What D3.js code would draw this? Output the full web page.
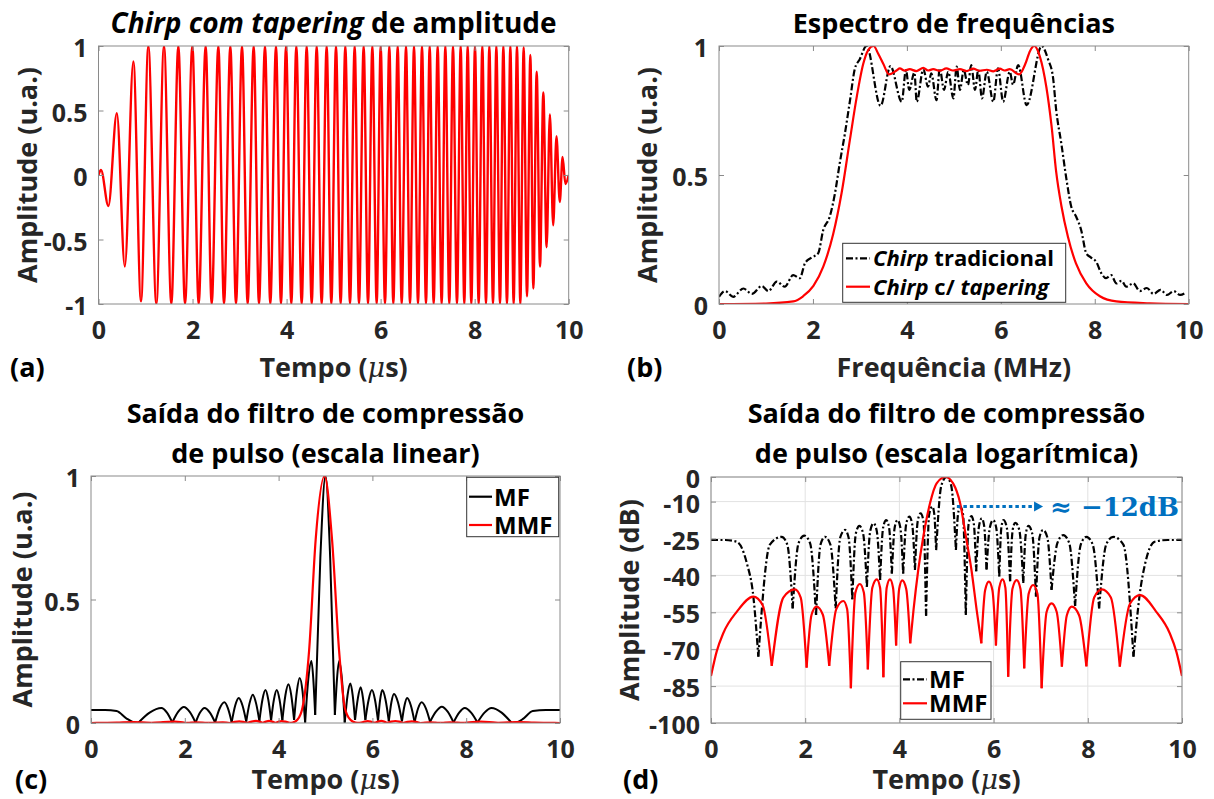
<!DOCTYPE html>
<html>
<head>
<meta charset="utf-8">
<script src="https://cdn.jsdelivr.net/npm/d3@7"></script>
<style>
  body { margin: 0; background: #fff; }
  svg text { font-family: "Open Sans", Lato, sans-serif; font-weight: 700; }
</style>
</head>
<body>
<svg id="chart" width="1214" height="799"></svg>
<script>
// ---------- (a) tapered chirp: extrema (time in µs, amplitude) ----------
const chirpTime = [
  0, 0.053, 0.21, 0.39, 0.56, 0.741, 0.904, 1.060, 1.230, 1.393,
  1.549, 1.698, 1.840, 1.996, 2.130, 2.279, 2.407, 2.549, 2.669, 2.804,
  2.924, 3.052, 3.172, 3.300, 3.413, 3.541, 3.654, 3.775, 3.881, 3.988,
  4.101, 4.207, 4.321, 4.427, 4.534, 4.640, 4.746, 4.852, 4.952, 5.051,
  5.150, 5.249, 5.349, 5.448, 5.540, 5.639, 5.732, 5.824, 5.916, 6.001,
  6.093, 6.185, 6.270, 6.363, 6.448, 6.540, 6.625, 6.710, 6.795, 6.880,
  6.965, 7.043, 7.128, 7.213, 7.298, 7.376, 7.461, 7.539, 7.624, 7.702,
  7.780, 7.851, 7.929, 8.007, 8.085, 8.163, 8.241, 8.312, 8.390, 8.461,
  8.539, 8.610, 8.687, 8.759, 8.829, 8.900, 8.971, 9.042, 9.113, 9.184,
  9.248, 9.319, 9.390, 9.460, 9.530, 9.600, 9.670, 9.740, 9.810, 9.870,
  9.930, 10.0
];
const chirpAmp = [
  0, 0.04, -0.24, 0.48, -0.71, 0.88, -0.98, 1, -1, 1,
  -1, 1, -1, 1, -1, 1, -1, 1, -1, 1,
  -1, 1, -1, 1, -1, 1, -1, 1, -1, 1,
  -1, 1, -1, 1, -1, 1, -1, 1, -1, 1,
  -1, 1, -1, 1, -1, 1, -1, 1, -1, 1,
  -1, 1, -1, 1, -1, 1, -1, 1, -1, 1,
  -1, 1, -1, 1, -1, 1, -1, 1, -1, 1,
  -1, 1, -1, 1, -1, 1, -1, 1, -1, 1,
  -1, 1, -1, 1, -1, 1, -1, 0.99, -0.94, 0.93,
  -0.88, 0.80, -0.71, 0.64, -0.56, 0.47, -0.39, 0.30, -0.21, 0.14,
  -0.07, 0.0
];

// ---------- (b) spectra (frequency in MHz, normalised amplitude) ----------
const tradFreq = [
  0, 0.13, 0.30, 0.52, 0.70, 0.91, 1.05, 1.23, 1.40, 1.58,
  1.72, 1.83, 1.97, 2.11, 2.22, 2.36, 2.47, 2.57, 2.68, 2.79,
  2.89, 3.00, 3.14, 3.44, 3.65, 3.89, 3.98, 4.05, 4.16, 4.21,
  4.35, 4.45, 4.52, 4.63, 4.70, 4.79, 4.88, 4.99, 5.06, 5.13,
  5.21, 5.30, 5.37, 5.45, 5.52, 5.60, 5.70, 5.84, 5.94, 6.05,
  6.19, 6.26, 6.37, 6.55, 6.87, 7.01, 7.11, 7.18, 7.29, 7.40,
  7.50, 7.60, 7.71, 7.82, 7.92, 8.03, 8.14, 8.24, 8.35, 8.46,
  8.57, 8.67, 8.82, 8.96, 9.11, 9.25, 9.40, 9.54, 9.68, 9.82,
  9.93
];
const tradAmp = [
  0.028, 0.05, 0.028, 0.06, 0.039, 0.07, 0.05, 0.087, 0.067, 0.112,
  0.10, 0.158, 0.18, 0.196, 0.287, 0.34, 0.43, 0.545, 0.66, 0.79,
  0.91, 0.95, 1.0, 0.768, 0.922, 0.784, 0.907, 0.83, 0.897, 0.784,
  0.91, 0.842, 0.894, 0.79, 0.913, 0.83, 0.90, 0.797, 0.92, 0.83,
  0.907, 0.849, 0.926, 0.83, 0.907, 0.797, 0.90, 0.784, 0.913, 0.784,
  0.90, 0.85, 0.926, 0.771, 1.0, 0.946, 0.88, 0.75, 0.62, 0.48,
  0.377, 0.34, 0.287, 0.196, 0.18, 0.164, 0.119, 0.10, 0.112, 0.08,
  0.09, 0.067, 0.08, 0.05, 0.062, 0.039, 0.055, 0.035, 0.05, 0.035,
  0.043
];
const taperFreq = [
  0, 1.0, 1.58, 1.79, 2.01, 2.22, 2.43, 2.61, 2.79, 2.93,
  3.07, 3.18, 3.29, 3.39, 3.50, 3.62, 3.78, 3.85, 3.95, 4.06,
  4.20, 4.35, 4.45, 4.56, 4.70, 4.84, 4.98, 5.13, 5.27, 5.41,
  5.55, 5.70, 5.84, 5.98, 6.08, 6.19, 6.39, 6.52, 6.62, 6.71,
  6.83, 6.97, 7.08, 7.18, 7.29, 7.43, 7.60, 7.82, 8.11, 8.46,
  9.17, 10.0
];
const taperAmp = [
  0, 0.002, 0.01, 0.03, 0.07, 0.145, 0.27, 0.43, 0.64, 0.80,
  0.93, 0.985, 1.0, 0.97, 0.93, 0.89, 0.905, 0.913, 0.905, 0.91,
  0.903, 0.915, 0.905, 0.91, 0.904, 0.913, 0.905, 0.91, 0.903, 0.912,
  0.904, 0.908, 0.902, 0.912, 0.905, 0.91, 0.89, 0.93, 0.98, 1.0,
  0.96, 0.84, 0.69, 0.51, 0.38, 0.26, 0.157, 0.08, 0.03, 0.01,
  0.003, 0.0
];

// ---------- (c)/(d) pulse-compression output, in dB ----------
// matched filter (MF): nulls, lobe shoulders and lobe peaks
const mfTime = [
  0, 0.30, 0.545, 0.76, 0.90, 1.005, 1.25, 1.50, 1.62, 1.734,
  1.857, 1.98, 2.105, 2.23, 2.325, 2.42, 2.535, 2.647, 2.745, 2.845,
  2.92, 3.00, 3.075, 3.15, 3.23, 3.31, 3.38, 3.45, 3.52, 3.59,
  3.655, 3.72, 3.78, 3.84, 3.90, 3.96, 4.02, 4.08, 4.145, 4.21,
  4.27, 4.33, 4.39, 4.45, 4.51, 4.566, 4.633, 4.70, 4.74, 4.78,
  4.89, 5.00, 5.10, 5.20, 5.245, 5.29, 5.35, 5.41, 5.47, 5.53,
  5.58, 5.63, 5.69, 5.75, 5.80, 5.85, 5.92, 5.99, 6.055, 6.12,
  6.165, 6.21, 6.28, 6.35, 6.405, 6.46, 6.545, 6.63, 6.685, 6.74,
  6.82, 6.90, 6.975, 7.05, 7.14, 7.23, 7.355, 7.48, 7.605, 7.73,
  7.85, 7.97, 8.105, 8.24, 8.39, 8.54, 8.755, 8.97, 9.10, 9.22,
  9.42, 9.70, 10.0
];
const mfDb = [
  -25.6, -25.6, -26.3, -35, -48.7, -73, -27.5, -24.3, -27.5, -53.4,
  -27, -23.8, -27, -56.1, -27.5, -24.3, -27.5, -53.4, -24.5, -21.5,
  -24.5, -49.7, -23, -19.9, -23, -44.6, -22, -18.8, -22, -41.9,
  -20.5, -17.5, -20.5, -39.2, -20.5, -17.5, -20.5, -39.2, -19, -16.1,
  -19, -37.8, -17.8, -14.8, -17.8, -56.4, -15, -12, -15, -29.7,
  -3.5, 0, -3.5, -29.7, -15, -12, -15, -56.1, -19, -15.9,
  -19, -38.3, -20, -16.8, -20, -37.7, -20.5, -17.5, -20.5, -40.4,
  -20.5, -17.5, -20.5, -42.4, -21.5, -18.6, -21.5, -43.1, -23, -19.9,
  -23, -48.6, -24.5, -21.5, -24.5, -45.9, -26.8, -23.6, -26.8, -52.4,
  -27.5, -24.3, -27.5, -53.4, -27.5, -24.3, -27.5, -73, -48, -35,
  -26.3, -25.6, -25.6
];
// mismatched filter (MMF)
const mmfTime = [
  0, 0.12, 0.26, 0.55, 0.90, 1.095, 1.29, 1.535, 1.78, 1.905,
  2.03, 2.135, 2.24, 2.375, 2.51, 2.66, 2.81, 2.89, 2.97, 3.065,
  3.16, 3.245, 3.33, 3.425, 3.52, 3.59, 3.66, 3.73, 3.80, 3.865,
  3.93, 3.995, 4.06, 4.145, 4.23, 4.30, 4.40, 4.51, 4.65, 4.79,
  4.98, 5.14, 5.29, 5.41, 5.53, 5.64, 5.74, 5.82, 5.90, 5.975,
  6.05, 6.12, 6.19, 6.25, 6.31, 6.40, 6.49, 6.57, 6.65, 6.745,
  6.84, 6.93, 7.02, 7.125, 7.23, 7.34, 7.45, 7.555, 7.66, 7.815,
  7.97, 8.135, 8.30, 8.49, 8.68, 8.895, 9.11, 9.45, 9.74, 9.88,
  10.0
];
const mmfDb = [
  -80.9, -71, -63.5, -54.7, -48.6, -52, -76.8, -49, -45.7, -49,
  -77.5, -56, -52.7, -56, -76.8, -53.7, -50.4, -53.7, -85.9, -47,
  -43.5, -47, -78.2, -45, -41.6, -45, -81.4, -45, -41.6, -45,
  -68.5, -45.5, -42, -45.5, -67.6, -54, -37.8, -24, -10.7, -2.6,
  0, -2.6, -10.7, -24, -37.8, -54, -67.6, -46, -42.5, -46,
  -68.5, -45, -41.6, -45, -81.2, -45.4, -41.9, -45.4, -77.8, -47.4,
  -43.9, -47.4, -85.9, -54.9, -51.4, -54.9, -77.1, -56.2, -52.7, -56.2,
  -77, -49, -45.7, -49, -77.1, -51.5, -48, -54.7, -63.5, -71,
  -80.9
];

// ---------- tick values ----------
const timeTicks = [0, 2, 4, 6, 8, 10];
const freqTicks = [0, 2, 4, 6, 8, 10];
const ampTicksSym = [-1, -0.5, 0, 0.5, 1];
const ampTicksPos = [0, 0.5, 1];
const dbTicks = [0, -10, -25, -40, -55, -70, -85, -100];

const RED = "#ff0000", BLACK = "#000000", BLUE = "#0070c0";
const AXIS_GRAY = "#8a8a8a", TEXT_GRAY = "#262626";
const TITLE_PX = 27, LABEL_PX = 27, TICK_PX = 25;
const svg = d3.select("#chart");
const zip = (xs, ys) => xs.map((v, i) => [v, ys[i]]);

function makePanel(o) {
  const x = d3.scaleLinear().domain(o.xDomain).range([o.left, o.right]);
  const y = d3.scaleLinear().domain(o.yDomain).range([o.bottom, o.top]);
  const g = svg.append("g");
  const id = "clip-" + o.key;
  svg.append("clipPath").attr("id", id).append("rect")
    .attr("x", o.left).attr("y", o.top)
    .attr("width", o.right - o.left).attr("height", o.bottom - o.top);
  if (o.grid) {
    const gg = g.append("g").attr("stroke", "#e2e2e2").attr("stroke-width", 1);
    gg.selectAll("line.vx").data(o.xTicks).join("line")
      .attr("x1", d => x(d)).attr("x2", d => x(d))
      .attr("y1", o.top).attr("y2", o.bottom);
    gg.selectAll("line.hy").data(o.yTicks).join("line")
      .attr("x1", o.left).attr("x2", o.right)
      .attr("y1", d => y(d)).attr("y2", d => y(d));
  }
  const plot = g.append("g").attr("clip-path", `url(#${id})`);
  return { x, y, g, plot, o };
}

function styleAxis(sel) {
  sel.select(".domain").remove();
  sel.selectAll(".tick line").attr("stroke", AXIS_GRAY);
  sel.selectAll(".tick text").attr("fill", TEXT_GRAY).style("font-size", TICK_PX + "px");
}

function drawAxes(p) {
  const { x, y, g, o } = p;
  const tk = 5;
  const fmt = d => String(d);
  g.append("g").attr("transform", `translate(0,${o.bottom})`)
    .call(d3.axisBottom(x).tickValues(o.xTicks).tickSizeInner(-tk).tickSizeOuter(0)
      .tickPadding(17).tickFormat(fmt))
    .call(styleAxis);
  g.append("g").attr("transform", `translate(0,${o.top})`)
    .call(d3.axisTop(x).tickValues(o.xTicks).tickSizeInner(-tk).tickSizeOuter(0).tickFormat(""))
    .call(styleAxis);
  g.append("g").attr("transform", `translate(${o.left},0)`)
    .call(d3.axisLeft(y).tickValues(o.yTicks).tickSizeInner(-tk).tickSizeOuter(0)
      .tickPadding(11).tickFormat(fmt))
    .call(styleAxis)
    .selectAll(".tick text").attr("dy", "0.42em");
  g.append("g").attr("transform", `translate(${o.right},0)`)
    .call(d3.axisRight(y).tickValues(o.yTicks).tickSizeInner(-tk).tickSizeOuter(0).tickFormat(""))
    .call(styleAxis);
  g.append("rect")
    .attr("x", o.left).attr("y", o.top)
    .attr("width", o.right - o.left).attr("height", o.bottom - o.top)
    .attr("fill", "none").attr("stroke", AXIS_GRAY).attr("stroke-width", 1);
}

// Axis captions: x label, y label and panel letter
function captions(p, xLabelParts, yLabel, letter, xBase, yLabelX, letterX) {
  const { o } = p;
  const t = svg.append("text").attr("x", (o.left + o.right) / 2).attr("y", xBase)
    .attr("text-anchor", "middle").attr("fill", TEXT_GRAY).style("font-size", LABEL_PX + "px");
  xLabelParts.forEach(([s, st]) => {
    const ts = t.append("tspan").text(s);
    if (st === "mu") ts.style("font-style", "italic").style("font-weight", 400)
      .style("font-family", "'DejaVu Serif', serif");
  });
  svg.append("text")
    .attr("transform", `translate(${yLabelX},${(o.top + o.bottom) / 2}) rotate(-90)`)
    .attr("text-anchor", "middle").attr("fill", TEXT_GRAY).style("font-size", LABEL_PX + "px")
    .text(yLabel);
  svg.append("text").attr("x", letterX).attr("y", xBase).attr("fill", BLACK)
    .style("font-size", LABEL_PX + "px").text(letter);
}

function title(cx, baselines, lines, size) {
  lines.forEach((parts, i) => {
    const t = svg.append("text").attr("x", cx).attr("y", baselines[i])
      .attr("text-anchor", "middle").attr("fill", BLACK).style("font-size", (size || TITLE_PX) + "px");
    parts.forEach(([s, it]) => {
      const ts = t.append("tspan").text(s);
      if (it) ts.style("font-style", "italic");
    });
  });
}

// Splits a series at its local minima so each lobe is its own smooth arch
function lobes(pts) {
  const segs = [];
  let cur = [pts[0]];
  for (let i = 1; i < pts.length; i++) {
    cur.push(pts[i]);
    const isMin = i < pts.length - 1 && pts[i][1] < pts[i - 1][1] && pts[i][1] < pts[i + 1][1];
    if (isMin) { segs.push(cur); cur = [pts[i]]; }
  }
  segs.push(cur);
  return segs;
}

function lineGen(p) {
  return d3.line().x(d => p.x(d[0])).y(d => p.y(d[1])).curve(d3.curveMonotoneX);
}

const DASHDOT = "7,2.5,2,2.5";

// ================= Panel (a) =================
const pa = makePanel({ key: "a", left: 98.5, right: 568.7, top: 46, bottom: 304,
  xDomain: [0, 10], yDomain: [-1, 1], xTicks: timeTicks, yTicks: ampTicksSym });
pa.plot.append("path").datum(zip(chirpTime, chirpAmp))
  .attr("d", lineGen(pa)).attr("fill", "none").attr("stroke", RED).attr("stroke-width", 2.4);
drawAxes(pa);
title(333.6, [33], [[["Chirp com tapering", true], [" de amplitude", false]]], 28);
captions(pa, [["Tempo ("], ["μ", "mu"], ["s)"]], "Amplitude (u.a.)", "(a)", 377, 37, 10);

// ================= Panel (b) =================
const pb = makePanel({ key: "b", left: 719, right: 1188.7, top: 46, bottom: 304,
  xDomain: [0, 10], yDomain: [0, 1], xTicks: freqTicks, yTicks: ampTicksPos });
pb.plot.append("path").datum(zip(tradFreq, tradAmp))
  .attr("d", lineGen(pb)).attr("fill", "none").attr("stroke", BLACK)
  .attr("stroke-width", 2.2).attr("stroke-dasharray", DASHDOT);
pb.plot.append("path").datum(zip(taperFreq, taperAmp))
  .attr("d", lineGen(pb)).attr("fill", "none").attr("stroke", RED).attr("stroke-width", 2.2);
drawAxes(pb);
title(953.9, [33], [[["Espectro de frequências", false]]]);
captions(pb, [["Frequência (MHz)"]], "Amplitude (u.a.)", "(b)", 377, 657, 627);

// legend (b)
{
  const lg = svg.append("g");
  lg.append("rect").attr("x", 842.7).attr("y", 243.3).attr("width", 223).attr("height", 59)
    .attr("fill", "#fff").attr("stroke", "#333").attr("stroke-width", 1);
  const rows = [
    { y: 258.3, stroke: BLACK, dash: DASHDOT, parts: [["Chirp", true], [" tradicional", false]] },
    { y: 286.7, stroke: RED, dash: null, parts: [["Chirp", true], [" c/ ", false], ["tapering", true]] }
  ];
  rows.forEach(r => {
    lg.append("line").attr("x1", 846).attr("x2", 870).attr("y1", r.y).attr("y2", r.y)
      .attr("stroke", r.stroke).attr("stroke-width", 2.2).attr("stroke-dasharray", r.dash);
    const t = lg.append("text").attr("x", 873).attr("y", r.y + 8).attr("fill", BLACK)
      .style("font-size", "22px");
    r.parts.forEach(([s, it]) => { const ts = t.append("tspan").text(s); if (it) ts.style("font-style", "italic"); });
  });
}

// ================= Panel (c) =================
const toLin = ([t, db]) => [t, Math.pow(10, db / 20)];
const pc = makePanel({ key: "c", left: 91, right: 560, top: 476, bottom: 723,
  xDomain: [0, 10], yDomain: [0, 1], xTicks: timeTicks, yTicks: ampTicksPos });
lobes(zip(mfTime, mfDb).map(toLin)).forEach(seg => {
  pc.plot.append("path").datum(seg).attr("d", lineGen(pc)).attr("fill", "none")
    .attr("stroke", BLACK).attr("stroke-width", 2);
});
lobes(zip(mmfTime, mmfDb).map(toLin)).forEach(seg => {
  pc.plot.append("path").datum(seg).attr("d", lineGen(pc)).attr("fill", "none")
    .attr("stroke", RED).attr("stroke-width", 2.2);
});
drawAxes(pc);
title(325.5, [423, 463], [[["Saída do filtro de compressão", false]], [["de pulso (escala linear)", false]]]);
captions(pc, [["Tempo ("], ["μ", "mu"], ["s)"]], "Amplitude (u.a.)", "(c)", 789, 32, 15);

// ================= Panel (d) =================
const pd = makePanel({ key: "d", left: 711, right: 1182, top: 477, bottom: 723,
  xDomain: [0, 10], yDomain: [-100, 0], xTicks: timeTicks, yTicks: dbTicks, grid: true });
lobes(zip(mfTime, mfDb)).forEach(seg => {
  pd.plot.append("path").datum(seg).attr("d", lineGen(pd)).attr("fill", "none")
    .attr("stroke", BLACK).attr("stroke-width", 2.2).attr("stroke-dasharray", DASHDOT);
});
lobes(zip(mmfTime, mmfDb)).forEach(seg => {
  pd.plot.append("path").datum(seg).attr("d", lineGen(pd)).attr("fill", "none")
    .attr("stroke", RED).attr("stroke-width", 2.2);
});
drawAxes(pd);
title(946.5, [423, 463], [[["Saída do filtro de compressão", false]], [["de pulso (escala logarítmica)", false]]]);
captions(pd, [["Tempo ("], ["μ", "mu"], ["s)"]], "Amplitude (dB)", "(d)", 789, 639, 623);

// first-sidelobe annotation
{
  const level = -12;
  const x0 = pd.x(5.22), x1 = pd.x(7.05), yy = pd.y(level);
  svg.append("line").attr("x1", x0).attr("x2", x1 - 6).attr("y1", yy).attr("y2", yy)
    .attr("stroke", BLUE).attr("stroke-width", 3).attr("stroke-dasharray", "3.5,3");
  svg.append("path")
    .attr("d", `M${x1},${yy} L${x1 - 9},${yy - 5} L${x1 - 9},${yy + 5} Z`).attr("fill", BLUE);
  svg.append("text").attr("x", x1 + 7).attr("y", yy + 9).attr("fill", BLUE)
    .style("font-family", "'DejaVu Serif', serif").style("font-size", "26px")
    .text("≈ −" + Math.abs(level) + "dB");
}

// legends (c) and (d)
function smallLegend(bx, by, bw, bh, rowYs, lx1, lx2, tx, dashBlack) {
  const lg = svg.append("g");
  lg.append("rect").attr("x", bx).attr("y", by).attr("width", bw).attr("height", bh)
    .attr("fill", "#fff").attr("stroke", "#333").attr("stroke-width", 1);
  [["MF", BLACK, dashBlack], ["MMF", RED, null]].forEach(([lab, col, dash], i) => {
    lg.append("line").attr("x1", lx1).attr("x2", lx2).attr("y1", rowYs[i]).attr("y2", rowYs[i])
      .attr("stroke", col).attr("stroke-width", 2.2).attr("stroke-dasharray", dash);
    lg.append("text").attr("x", tx).attr("y", rowYs[i] + 9).attr("fill", BLACK)
      .style("font-size", "24px").text(lab);
  });
}
smallLegend(466.7, 477.3, 92, 59.4, [496.7, 525], 469, 492, 494, null);
smallLegend(900.7, 661.7, 90.3, 57.6, [679.3, 703.3], 903, 927, 929, DASHDOT);
</script>
</body>
</html>
